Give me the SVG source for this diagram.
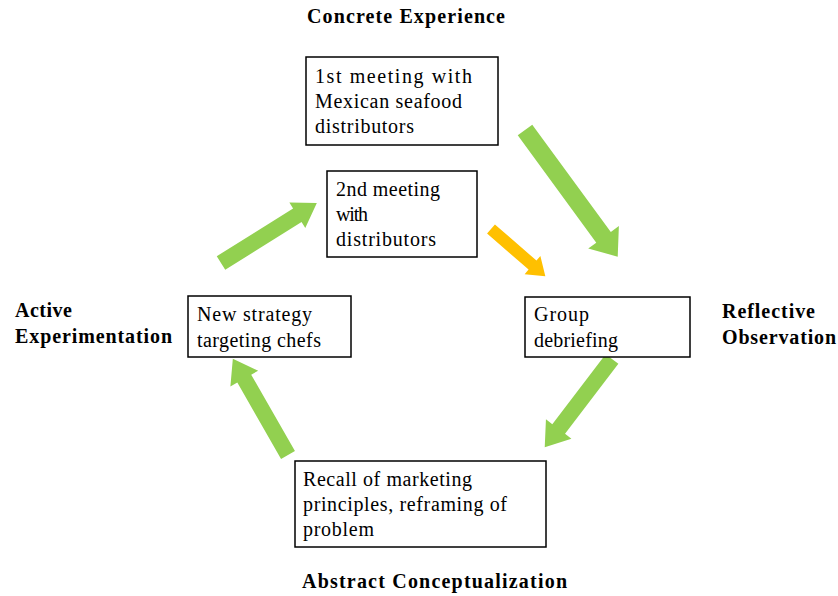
<svg xmlns="http://www.w3.org/2000/svg" width="838" height="596" viewBox="0 0 838 596">
<style>
.box{fill:#fff;stroke:#000;stroke-width:1.5}
.t{font-family:"Liberation Serif","Times New Roman",serif;font-size:20px;fill:#000}
.h{font-family:"Liberation Serif","Times New Roman",serif;font-size:20px;font-weight:bold;fill:#000}
.g{fill:#92D050}
.o{fill:#FFC000}
</style>
<rect width="838" height="596" fill="#fff"/>
<g id="labels">
<text class="h" x="307" y="23" textLength="198" lengthAdjust="spacing">Concrete Experience</text>
<text class="h" x="15" y="317" textLength="57" lengthAdjust="spacing">Active</text>
<text class="h" x="15" y="343" textLength="157" lengthAdjust="spacing">Experimentation</text>
<text class="h" x="722" y="318" textLength="93" lengthAdjust="spacing">Reflective</text>
<text class="h" x="722" y="344" textLength="114" lengthAdjust="spacing">Observation</text>
<text class="h" x="302" y="588" textLength="265" lengthAdjust="spacing">Abstract Conceptualization</text>
</g>
<g id="connectors">
<polygon class="g" transform="translate(525,130) rotate(53.8)" points="0,-9 133,-9 133,-19 157,0 133,19 133,9 0,9"/>
<polygon class="o" transform="translate(491,229) rotate(41)" points="0,-6 55,-6 55,-12 72,0 55,12 55,6 0,6"/>
<polygon class="g" transform="translate(221,263) rotate(-32)" points="0,-8 90,-8 90,-15 113,0 90,15 90,8 0,8"/>
<polygon class="g" transform="translate(612,359) rotate(127.3)" points="0,-8 88,-8 88,-16 111,0 88,16 88,8 0,8"/>
<polygon class="g" transform="translate(288,455) rotate(-119.8)" points="0,-8 88,-8 88,-16 111,0 88,16 88,8 0,8"/>
</g>
<g id="n1">
<rect class="box" x="306" y="57" width="192" height="88"/>
<text class="t" x="315" y="83" textLength="157" lengthAdjust="spacing">1st meeting with</text>
<text class="t" x="315" y="108" textLength="147" lengthAdjust="spacing">Mexican seafood</text>
<text class="t" x="315" y="133" textLength="99" lengthAdjust="spacing">distributors</text>
</g>
<g id="n2">
<rect class="box" x="327" y="171" width="150" height="86"/>
<text class="t" x="336" y="196" textLength="104" lengthAdjust="spacing">2nd meeting</text>
<text class="t" x="336" y="221" textLength="32" lengthAdjust="spacing">with</text>
<text class="t" x="336" y="246" textLength="100" lengthAdjust="spacing">distributors</text>
</g>
<g id="n3">
<rect class="box" x="525" y="297" width="165" height="60"/>
<text class="t" x="534" y="321" textLength="55" lengthAdjust="spacing">Group</text>
<text class="t" x="534" y="347" textLength="84" lengthAdjust="spacing">debriefing</text>
</g>
<g id="n4">
<rect class="box" x="188" y="296" width="163" height="61"/>
<text class="t" x="197" y="321" textLength="115" lengthAdjust="spacing">New strategy</text>
<text class="t" x="197" y="347" textLength="124" lengthAdjust="spacing">targeting chefs</text>
</g>
<g id="n5">
<rect class="box" x="295" y="461" width="251" height="86"/>
<text class="t" x="303" y="486" textLength="169" lengthAdjust="spacing">Recall of marketing</text>
<text class="t" x="303" y="511" textLength="204" lengthAdjust="spacing">principles, reframing of</text>
<text class="t" x="303" y="536" textLength="71" lengthAdjust="spacing">problem</text>
</g>
</svg>
